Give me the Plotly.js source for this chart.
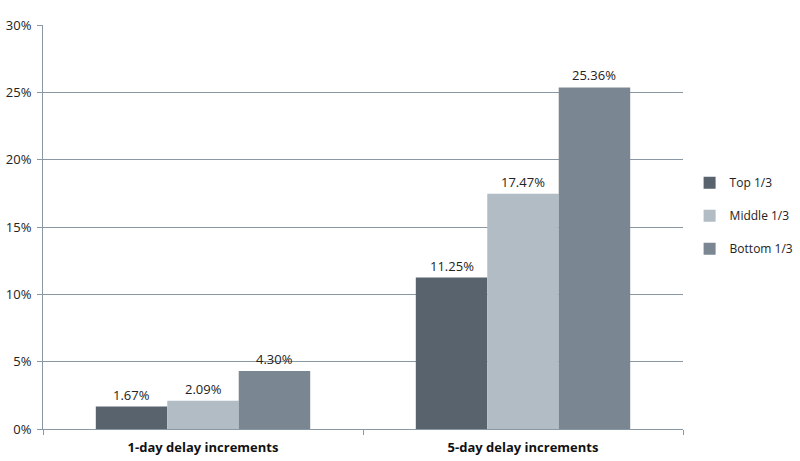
<!DOCTYPE html>
<html><head><meta charset="utf-8">
<script src="https://cdn.plot.ly/plotly-3.0.1.min.js"></script>
<style>body{margin:0;background:#fff}#c{width:800px;height:461px}</style>
</head><body><div id="c"></div>
<script>
const categories = ["1-day delay increments", "5-day delay increments"];
const seriesNames = ["Top 1/3", "Middle 1/3", "Bottom 1/3"];
const top3 = [1.67, 11.25];
const middle3 = [2.09, 17.47];
const bottom3 = [4.30, 25.36];
const colors = ["#58636e", "#b1bcc5", "#7a8793"];
const vals = [top3, middle3, bottom3];
const traces = vals.map((v, i) => ({
  type: "bar", name: seriesNames[i], x: categories, y: v, legendgroup: "g" + i,
  offsetgroup: String(i),
  marker: {color: colors[i]},
  text: v.map(d => d.toFixed(2) + "%"), textposition: "none",
  hoverinfo: "none"
}));
// value labels above bars
const annotations = [];
const groupW = 0.67, n = 3;
vals.forEach((v, i) => {
  v.forEach((d, j) => {
    annotations.push({
      x: j - groupW / 2 + groupW / n * (i + 0.5), y: d, xref: "x", yref: "y",
      text: d.toFixed(2) + "%", showarrow: false, yanchor: "bottom", yshift: 1,
      font: {family: "Open Sans", size: 13, color: "#222"}
    });
  });
});
const layout = {
  width: 800, height: 461,
  margin: {l: 43, r: 117, t: 25, b: 32, autoexpand: false},
  paper_bgcolor: "#fff", plot_bgcolor: "#fff",
  barmode: "group", bargap: 0.33, bargroupgap: 0,
  font: {family: "Open Sans", size: 13, color: "#222"},
  annotations: annotations,
  xaxis: {type: "category", tickson: "boundaries", ticks: "outside", ticklen: 5,
    tickcolor: "#8a98a5", showline: true, linecolor: "#8a98a5", linewidth: 1,
    ticklabelstandoff: 6,
    tickfont: {family: "Open Sans", size: 13, color: "#111", weight: "bold"}},
  yaxis: {range: [0, 30], dtick: 5, ticksuffix: "%", showgrid: true, gridcolor: "#8a98a5",
    zeroline: false, showline: true, linecolor: "#8a98a5", ticks: "outside", ticklen: 5,
    ticklabelstandoff: 3,
    tickcolor: "#8a98a5", tickfont: {family: "Open Sans", size: 13, color: "#222"}},
  legend: {xref: "container", x: 0.862, yref: "container", y: 0.532, yanchor: "middle", xanchor: "left",
    tracegroupgap: 14, traceorder: "grouped",
    font: {family: "Open Sans", size: 12, color: "#222"}},
  showlegend: true
};
Plotly.newPlot("c", traces, layout, {displayModeBar: false});
</script></body></html>
